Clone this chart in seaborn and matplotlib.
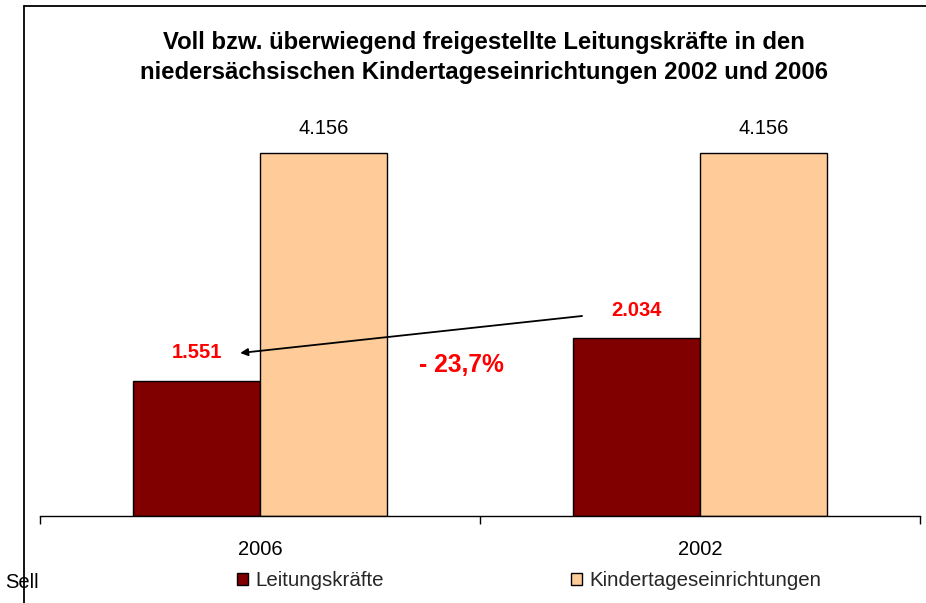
import numpy as np
import pandas as pd
import matplotlib
matplotlib.use("Agg")
import matplotlib.pyplot as plt
import seaborn as sns
from matplotlib.lines import Line2D
from matplotlib.patches import Patch

# data
years = ["2006", "2002"]
leitung = [1551, 2034]
kitas = [4156, 4156]
series = ["Leitungskräfte", "Kindertageseinrichtungen"]
colors = ["#800000", "#FFCC99"]

title_lines = ["Voll bzw. überwiegend freigestellte Leitungskräfte in den",
               "niedersächsischen Kindertageseinrichtungen 2002 und 2006"]

df = pd.DataFrame({
    "Jahr": years * 2,
    "Anzahl": leitung + kitas,
    "Reihe": [series[0]] * 2 + [series[1]] * 2,
})

sns.set_theme(style="white")
plt.rcParams["font.family"] = ["Liberation Sans", "DejaVu Sans"]

fig = plt.figure(figsize=(9.26, 6.03), dpi=100)
ax = fig.add_axes([40 / 926, 0.1443, 880 / 926, 0.7242])

sns.barplot(data=df, x="Jahr", y="Anzahl", hue="Reihe", order=years,
            hue_order=series, palette=colors, saturation=1, width=0.577, gap=0,
            edgecolor="black", linewidth=1, legend=False, ax=ax)

ax.set_xlim(-0.5, 1.5)
ax.set_ylim(0, 5000)
ax.set_xlabel("")
ax.set_ylabel("")
ax.set_yticks([])
for s in ["top", "right", "left"]:
    ax.spines[s].set_visible(False)
ax.spines["bottom"].set_color("black")
ax.spines["bottom"].set_linewidth(1)
ax.tick_params(axis="x", which="major", length=0, labelsize=14.5, pad=17,
               labelcolor="black")
ax.set_xticks([-0.5, 0.5, 1.5], minor=True)
ax.tick_params(axis="x", which="minor", length=6, width=1, color="black",
               bottom=True, direction="out")

# value labels
for i, v in enumerate(kitas):
    ax.annotate(f"{v:,}".replace(",", "."), (i + 0.144, v), xytext=(0, 11),
                textcoords="offset points", ha="center", va="bottom",
                fontsize=14.5, color="black")
for i, v in enumerate(leitung):
    ax.annotate(f"{v:,}".replace(",", "."), (i - 0.144, v), xytext=(0, 13),
                textcoords="offset points", ha="center", va="bottom",
                fontsize=14.5, color="#FF0000", fontweight="bold")

# arrow from 2002 to 2006 label and the change in percent
ax.annotate("", xy=(-0.045, leitung[0] + 315), xytext=(0.732, leitung[1] + 256),
            arrowprops=dict(arrowstyle="-|>", color="black", lw=1.3,
                            mutation_scale=11, shrinkA=0, shrinkB=0))
pct = (leitung[0] - leitung[1]) / leitung[1] * 100
ax.text(0.457, 1729, f"- {abs(pct):.1f}%".replace(".", ","), ha="center",
        va="center", fontsize=17.7, color="#FF0000", fontweight="bold")

# title
fig.text(484 / 926, 1 - 42 / 603, title_lines[0], ha="center", va="center",
         fontsize=17.2, fontweight="bold", color="black")
fig.text(484 / 926, 1 - 73 / 603, title_lines[1], ha="center", va="center",
         fontsize=17.2, fontweight="bold", color="black")

# legend
handles = [Patch(facecolor=c, edgecolor="black", linewidth=1) for c in colors]
fig.legend(handles, series, loc="center", bbox_to_anchor=(529 / 926, 1 - 581 / 603),
           ncol=2, frameon=False, fontsize=14.8, handlelength=0.55,
           handleheight=0.55, handletextpad=0.35, columnspacing=9.1,
           borderaxespad=0, borderpad=0)

fig.text(5 / 926, 1 - 582 / 603, "Sell", ha="left", va="center", fontsize=14.5,
         color="black")

# chart area frame (cut off at right and bottom)
fig.add_artist(Line2D([24 / 926, 24 / 926], [0, 1 - 6 / 603], color="black",
                      lw=1.3, transform=fig.transFigure))
fig.add_artist(Line2D([24 / 926, 1], [1 - 6 / 603, 1 - 6 / 603], color="black",
                      lw=1.3, transform=fig.transFigure))

fig.savefig("out.png", dpi=100, facecolor="white")
